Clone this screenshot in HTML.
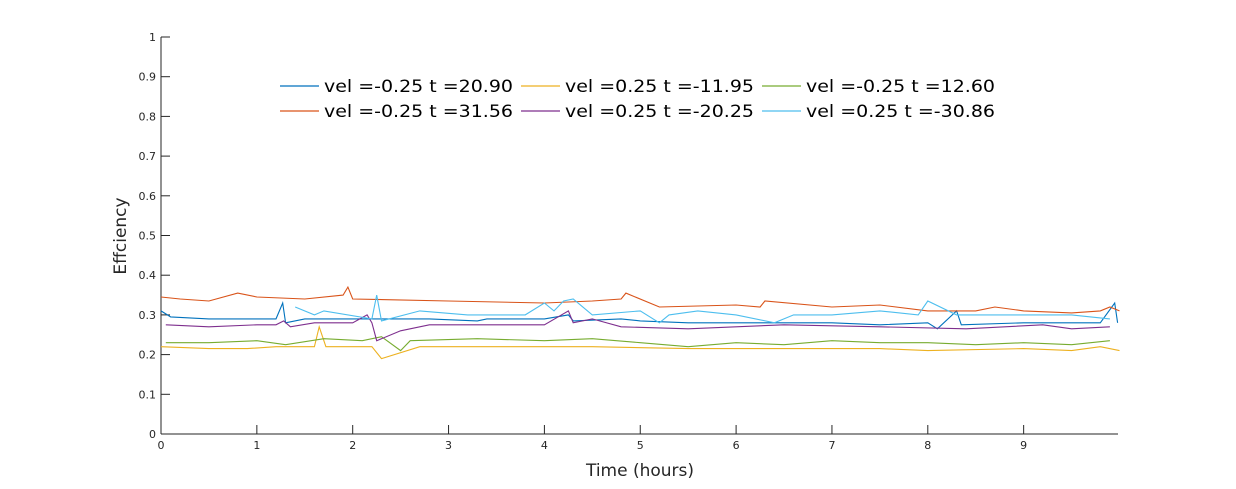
<!DOCTYPE html>
<html><head><meta charset="utf-8"><style>
body{margin:0;background:#fff;}
svg{display:block;font-family:"DejaVu Sans","Liberation Sans",sans-serif;}
</style></head><body>
<svg id="chart" width="1236" height="489"></svg>
<script>
const xTicks=[0,1,2,3,4,5,6,7,8,9];
const yTicks=[0,0.1,0.2,0.3,0.4,0.5,0.6,0.7,0.8,0.9,1];
const seriesNames=["vel =-0.25 t =20.90","vel =0.25 t =-11.95","vel =-0.25 t =12.60","vel =-0.25 t =31.56","vel =0.25 t =-20.25","vel =0.25 t =-30.86"];
const seriesColors=["#0072BD","#EDB120","#77AC30","#D95319","#7E2F8E","#4DBEEE"];
const blueX=[0,0.1,0.5,1.0,1.2,1.27,1.3,1.5,2.0,2.8,3.3,3.4,4.0,4.25,4.3,4.8,5.0,5.5,6.0,6.5,7.0,7.5,8.0,8.1,8.3,8.35,9.0,9.8,9.95,9.98];
const blueY=[0.31,0.295,0.29,0.29,0.29,0.33,0.28,0.29,0.29,0.29,0.285,0.29,0.29,0.3,0.285,0.29,0.285,0.28,0.28,0.28,0.28,0.275,0.28,0.265,0.31,0.275,0.28,0.28,0.33,0.28];
const yellowX=[0,0.5,0.9,1.2,1.6,1.65,1.72,2.2,2.3,2.7,3.5,4.5,5.5,6.5,7.5,8.0,9.0,9.5,9.8,10];
const yellowY=[0.22,0.215,0.215,0.22,0.22,0.27,0.22,0.22,0.19,0.22,0.22,0.22,0.215,0.215,0.215,0.21,0.215,0.21,0.22,0.21];
const greenX=[0.05,0.5,1.0,1.3,1.7,2.1,2.3,2.5,2.6,3.3,4.0,4.5,5.0,5.5,6.0,6.5,7.0,7.5,8.0,8.5,9.0,9.5,9.9];
const greenY=[0.23,0.23,0.235,0.225,0.24,0.235,0.245,0.21,0.235,0.24,0.235,0.24,0.23,0.22,0.23,0.225,0.235,0.23,0.23,0.225,0.23,0.225,0.235];
const orangeX=[0,0.2,0.5,0.8,1.0,1.5,1.9,1.95,2.0,3.0,4.0,4.5,4.8,4.85,5.2,6.0,6.25,6.3,7.0,7.5,8.0,8.5,8.7,9.0,9.5,9.8,9.9,10];
const orangeY=[0.345,0.34,0.335,0.355,0.345,0.34,0.35,0.37,0.34,0.335,0.33,0.335,0.34,0.355,0.32,0.325,0.32,0.335,0.32,0.325,0.31,0.31,0.32,0.31,0.305,0.31,0.32,0.31];
const purpleX=[0.05,0.5,1.0,1.2,1.28,1.35,1.6,2.0,2.15,2.2,2.25,2.5,2.8,4.0,4.25,4.3,4.5,4.8,5.5,6.5,7.5,8.4,9.2,9.5,9.9];
const purpleY=[0.275,0.27,0.275,0.275,0.285,0.27,0.28,0.28,0.3,0.28,0.235,0.26,0.275,0.275,0.31,0.28,0.29,0.27,0.265,0.275,0.27,0.265,0.275,0.265,0.27];
const lightX=[1.4,1.6,1.7,2.2,2.25,2.3,2.7,3.2,3.8,4.0,4.1,4.2,4.3,4.5,5.0,5.2,5.3,5.6,6.0,6.4,6.6,7.0,7.5,7.9,8.0,8.3,9.0,9.5,9.9];
const lightY=[0.32,0.3,0.31,0.29,0.35,0.285,0.31,0.3,0.3,0.33,0.31,0.335,0.34,0.3,0.31,0.28,0.3,0.31,0.3,0.28,0.3,0.3,0.31,0.3,0.335,0.3,0.3,0.3,0.29];
const seriesX=[blueX,yellowX,greenX,orangeX,purpleX,lightX];
const seriesY=[blueY,yellowY,greenY,orangeY,purpleY,lightY];
const seriesIds=["blue","yellow","green","orange","purple","lightblue"];

const NS="http://www.w3.org/2000/svg";
const svg=document.getElementById('chart');
const L=161,R=1118,T=37,B=434;
const xs=v=>L+v*95.85;
const ys=v=>B-v*(B-T);
function mk(tag,attrs,parent){const e=document.createElementNS(NS,tag);for(const k in attrs)e.setAttribute(k,attrs[k]);(parent||svg).appendChild(e);return e;}
const axes=mk('g',{});


mk('line',{x1:L,y1:B,x2:R,y2:B,stroke:'#262626','stroke-width':1},axes);
mk('line',{x1:L,y1:T,x2:L,y2:B,stroke:'#262626','stroke-width':1},axes);
xTicks.forEach(t=>{
  mk('line',{x1:xs(t),y1:B,x2:xs(t),y2:B-9,stroke:'#262626'},axes);
  const tx=mk('text',{x:xs(t),y:B+15,'font-size':11,'text-anchor':'middle',fill:'#262626'},axes);
  tx.textContent=t;
  
  
});
yTicks.forEach(t=>{
  mk('line',{x1:L,y1:ys(t),x2:L+9,y2:ys(t),stroke:'#262626'},axes);
  const tx=mk('text',{x:L-5,y:ys(t)+4,'font-size':11,'text-anchor':'end',fill:'#262626'},axes);
  tx.textContent=t;
  
  
});
const xl=mk('text',{x:640,y:476,'font-size':17,'text-anchor':'middle',fill:'#262626'});
xl.textContent='Time (hours)';


const yl=mk('text',{x:0,y:0,'font-size':17,'text-anchor':'middle',fill:'#262626',transform:'translate(126,236) rotate(-90)'});
yl.textContent='Effciency';


seriesX.forEach((xa,i)=>{
  const pts=xa.map((x,j)=>xs(x).toFixed(1)+','+ys(seriesY[i][j]).toFixed(1)).join(' ');
  const p=mk('polyline',{points:pts,fill:'none',stroke:seriesColors[i],'stroke-width':1.1});
  
  
});
const lg=mk('g',{});


const colX=[280,521,762];
const rowY=[86,111];
seriesNames.forEach((nm,k)=>{
  const cx=colX[k%3], cy=rowY[Math.floor(k/3)];
  const g=mk('g',{},lg);
  
  
  mk('line',{x1:cx,y1:cy,x2:cx+39,y2:cy,stroke:seriesColors[k],'stroke-width':1.2},g);
  const t=mk('text',{x:cx+44,y:cy+6,'font-size':17,fill:'#000',textLength:189,lengthAdjust:'spacingAndGlyphs'},g);
  t.textContent=nm;
});
</script>
</body></html>
